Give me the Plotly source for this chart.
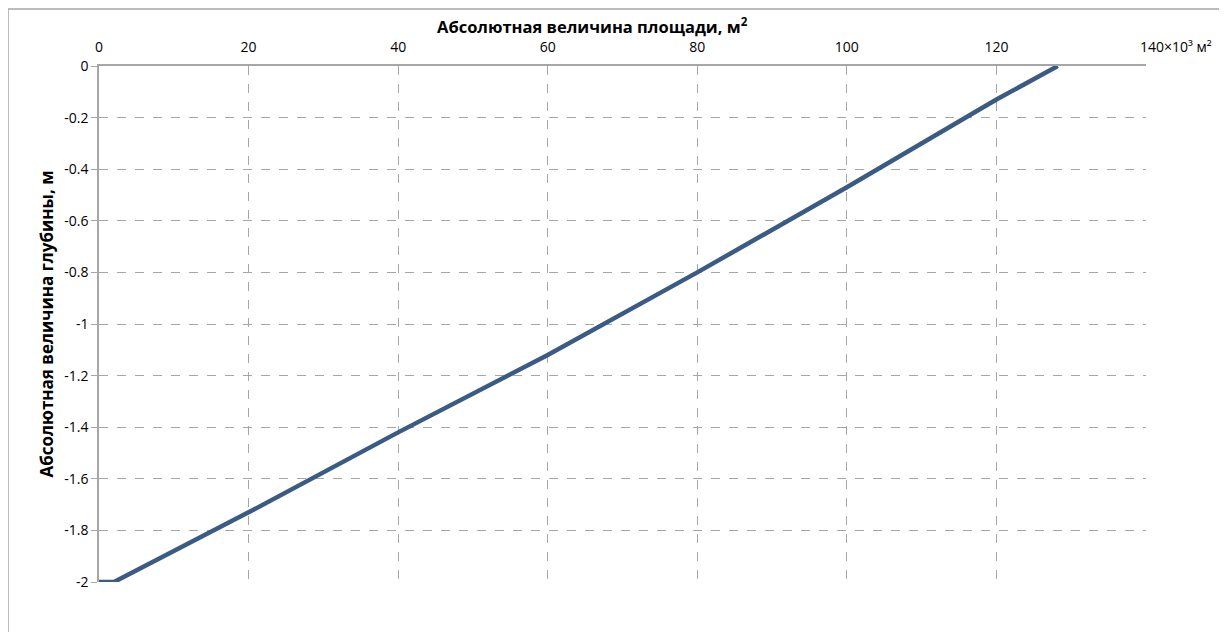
import plotly.graph_objects as go

# Data
area_k = [0, 2, 20, 40, 60, 80, 100, 120, 128.2]
depth = [-2.0, -2.0, -1.73, -1.42, -1.12, -0.80, -0.47, -0.13, 0.0]

x_ticks = [0, 20, 40, 60, 80, 100, 120, 140]
x_ticklabels = ["0", "20", "40", "60", "80", "100", "120", ""]
x_last_label = "140×10³ м²"
y_ticks = [0, -0.2, -0.4, -0.6, -0.8, -1, -1.2, -1.4, -1.6, -1.8, -2]
y_ticklabels = ["0", "-0.2", "-0.4", "-0.6", "-0.8", "-1", "-1.2", "-1.4", "-1.6", "-1.8", "-2"]

FONT = "'Open Sans', sans-serif"
GRID = "#a6a6a6"

fig = go.Figure()
fig.add_trace(go.Scatter(
    x=area_k, y=depth, mode="lines",
    line=dict(color="#3b5b82", width=4.5),
    showlegend=False, hoverinfo="skip",
))

W, H = 1227, 632
L, R, T, B = 91, 89, 58, 58
pw, ph = W - L - R, H - T - B

fig.update_layout(
    width=W, height=H,
    margin=dict(l=L, r=R, t=T, b=B),
    paper_bgcolor="white", plot_bgcolor="white",
    font=dict(family=FONT, size=14, color="#000000"),
    xaxis=dict(
        side="top", range=[0, 140],
        tickvals=x_ticks, ticktext=x_ticklabels,
        showgrid=True, gridcolor=GRID, griddash="dash", gridwidth=1,
        showline=True, linecolor=GRID, linewidth=1.5,
        ticks="", zeroline=False, ticklabelstandoff=7,
        tickfont=dict(size=14, family=FONT),
        fixedrange=True,
    ),
    yaxis=dict(
        range=[-2, 0],
        tickvals=y_ticks, ticktext=y_ticklabels,
        showgrid=True, gridcolor=GRID, griddash="dash", gridwidth=1,
        showline=True, linecolor=GRID, linewidth=1.5,
        ticks="outside", ticklen=6, tickcolor=GRID,
        zeroline=False,
        tickfont=dict(size=14, family=FONT),
        title=dict(text="<b>Абсолютная величина глубины, м</b>",
                   font=dict(size=17, family=FONT), standoff=6),
        fixedrange=True,
    ),
)

# Last x tick label with display units, starting at the tick as in the reference
fig.add_annotation(
    text=x_last_label, xref="x", yref="paper",
    x=140, y=1, xanchor="left", yanchor="bottom",
    xshift=-8, yshift=8, showarrow=False,
    font=dict(size=14, family=FONT, color="#000000"),
)

# X axis title (placed as in the reference, slightly left of centre)
fig.add_annotation(
    text="<b>Абсолютная величина площади, м<sup>2</sup></b>",
    xref="paper", yref="paper",
    x=(592 - 8 - L) / pw, y=1 + (T - 18) / ph,
    xanchor="center", yanchor="middle", showarrow=False,
    font=dict(size=16.5, family=FONT, color="#000000"),
)

# Outer chart-area border
fig.add_shape(
    type="rect", xref="paper", yref="paper",
    x0=-L / pw, x1=(W + 20 - L) / pw,
    y0=-(B + 20) / ph, y1=1 + (T - 1) / ph,
    line=dict(color="#a6a6a6", width=1.5), fillcolor="rgba(0,0,0,0)",
    layer="below",
)

fig.write_html("out.html")
